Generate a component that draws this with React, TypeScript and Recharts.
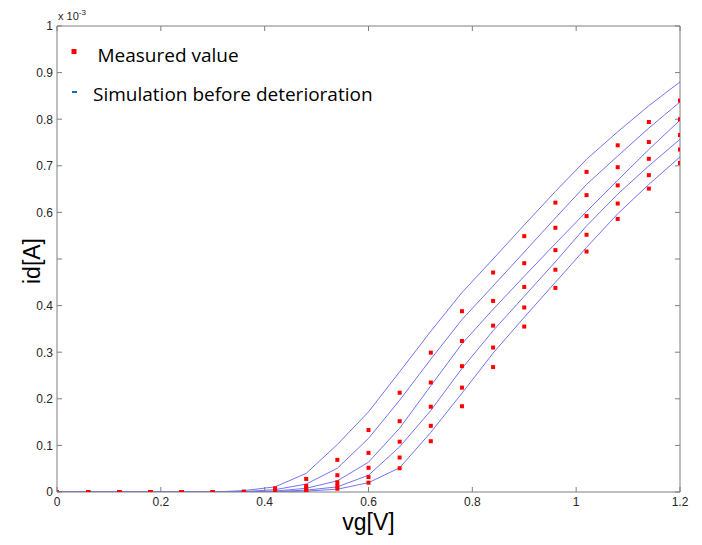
import React from 'react';
import { ComposedChart, Line, XAxis, YAxis, ReferenceLine, Legend } from 'recharts';

// gate voltage [V]
const VG = [0, 0.06, 0.12, 0.18, 0.24, 0.3, 0.36, 0.42, 0.48, 0.54, 0.6, 0.66, 0.72, 0.78, 0.84, 0.9, 0.96, 1.02, 1.08, 1.14, 1.2];

// simulation before deterioration (x 10^-3 A)
const SIM1 = [0, 0, 0, 0, 0, 0, 0.003, 0.011, 0.040, 0.102, 0.172, 0.258, 0.345, 0.428, 0.500, 0.573, 0.645, 0.714, 0.773, 0.829, 0.880];
const SIM2 = [0, 0, 0, 0, 0, 0, 0.001, 0.005, 0.017, 0.051, 0.115, 0.197, 0.285, 0.370, 0.442, 0.515, 0.588, 0.660, 0.721, 0.781, 0.837];
const SIM3 = [0, 0, 0, 0, 0, 0, 0, 0.002, 0.008, 0.024, 0.064, 0.137, 0.228, 0.318, 0.392, 0.463, 0.533, 0.602, 0.669, 0.735, 0.798];
const SIM4 = [0, 0, 0, 0, 0, 0, 0, 0.001, 0.004, 0.011, 0.036, 0.097, 0.175, 0.265, 0.346, 0.420, 0.494, 0.571, 0.639, 0.700, 0.757];
const SIM5 = [0, 0, 0, 0, 0, 0, 0, 0, 0.002, 0.006, 0.020, 0.052, 0.128, 0.212, 0.298, 0.375, 0.450, 0.525, 0.597, 0.660, 0.719];

// measured values (x 10^-3 A)
const MEAS1 = [0, 0, 0, 0, 0, 0, 0.001, 0.008, 0.028, 0.069, 0.133, 0.213, 0.299, 0.388, 0.471, 0.549, 0.621, 0.687, 0.744, 0.794, 0.840];
const MEAS2 = [0, 0, 0, 0, 0, 0, 0, 0.005, 0.013, 0.036, 0.084, 0.152, 0.235, 0.324, 0.410, 0.491, 0.567, 0.637, 0.697, 0.751, 0.800];
const MEAS3 = [0, 0, 0, 0, 0, 0, 0, 0.003, 0.008, 0.021, 0.052, 0.108, 0.183, 0.270, 0.357, 0.440, 0.519, 0.592, 0.658, 0.715, 0.766];
const MEAS4 = [0, 0, 0, 0, 0, 0, 0, 0.001, 0.004, 0.013, 0.032, 0.074, 0.142, 0.224, 0.310, 0.396, 0.477, 0.552, 0.619, 0.680, 0.735];
const MEAS5 = [0, 0, 0, 0, 0, 0, 0, 0, 0.000, 0.007, 0.020, 0.051, 0.109, 0.184, 0.268, 0.355, 0.438, 0.516, 0.586, 0.651, 0.706];

const X_TICKS = [0, 0.2, 0.4, 0.6, 0.8, 1, 1.2];
const Y_TICKS = [0, 0.1, 0.2, 0.3, 0.4, 0.5, 0.6, 0.7, 0.8, 0.9, 1];
// tick label hidden under the "id[A]" axis title in the original figure
const Y_TICK_HIDDEN = [0.5];

const SIMS = [SIM1, SIM2, SIM3, SIM4, SIM5];
const MEAS = [MEAS1, MEAS2, MEAS3, MEAS4, MEAS5];

const data = VG.map((vg, i) => {
  const row: Record<string, number> = { vg };
  SIMS.forEach((s, k) => { row['s' + k] = s[i]; });
  MEAS.forEach((m, k) => { row['m' + k] = m[i]; });
  return row;
});

const AXIS = '#7f7f7f';
const TICK_TXT = '#262626';
const LINE = '#7474f2';
const DOT = '#ff0000';
const FONT = '"Liberation Sans", Arial, sans-serif';

const fmt = (v: number) => (v === 0 ? '0' : v === 1 ? '1' : String(Math.round(v * 10) / 10));

const LeftTick = (p: any) => (
  <g>
    <line x1={p.x} y1={p.y} x2={p.x + 5} y2={p.y} stroke={AXIS} />
    {Y_TICK_HIDDEN.includes(p.payload.value) ? null : (
      <text x={p.x - 4} y={p.y} dy="0.36em" textAnchor="end" fontSize={12} fontFamily={FONT} fill={TICK_TXT}>
        {fmt(p.payload.value)}
      </text>
    )}
  </g>
);

const BottomTick = (p: any) => (
  <g>
    <line x1={p.x} y1={p.y} x2={p.x} y2={p.y - 5} stroke={AXIS} />
    <text x={p.x} y={p.y + 14} textAnchor="middle" fontSize={12} fontFamily={FONT} fill={TICK_TXT}>
      {fmt(p.payload.value)}
    </text>
  </g>
);

const SquareDot = (p: any) => {
  if (p.cx == null || p.cy == null) return <g />;
  return <rect x={p.cx - 2} y={p.cy - 2} width={4} height={4} fill={DOT} />;
};

const TopTickLine = (p: any) => (
  <line x1={p.x1} y1={Math.min(p.y1, p.y2)} x2={p.x1} y2={Math.min(p.y1, p.y2) + 5} stroke={AXIS} />
);
const RightTickLine = (p: any) => (
  <line x1={Math.max(p.x1, p.x2)} y1={p.y1} x2={Math.max(p.x1, p.x2) - 5} y2={p.y1} stroke={AXIS} />
);

const YLabel = (props: any) => {
  const vb = props.viewBox || { x: 0, y: 26, width: 57, height: 466 };
  const cx = vb.x + 32;
  const cy = vb.y + vb.height / 2 + 2;
  return (
    <g>
      <text x={cx} y={cy} transform={`rotate(-90, ${cx}, ${cy})`} textAnchor="middle" dy="0.35em" fontSize={23} fontFamily={FONT} fill="#000">
        id[A]
      </text>
      <text x={vb.x + vb.width + 1} y={vb.y - 6} fontSize={11} fontFamily={FONT} fill={TICK_TXT}>
        x 10
        <tspan dy={-5} fontSize={8}>-3</tspan>
      </text>
    </g>
  );
};

const XLabel = (props: any) => {
  const vb = props.viewBox || { x: 57, y: 492, width: 623, height: 30 };
  return (
    <text x={vb.x + vb.width / 2} y={vb.y + 38} textAnchor="middle" fontSize={23} fontFamily={FONT} fill="#000">
      vg[V]
    </text>
  );
};

const LegendBox = () => (
  <svg width={360} height={80} style={{ display: 'block' }}>
    <rect x={11.5} y={19} width={5} height={5} fill={DOT} />
    <text x={37.5} y={31.5} fontSize={19} fontFamily='"Open Sans", sans-serif' fill="#000">
      Measured value
    </text>
    <rect x={12} y={61} width={5} height={2} fill="#0070c0" />
    <text x={33} y={71} fontSize={19} fontFamily='"Open Sans", sans-serif' fill="#000">
      Simulation before deterioration
    </text>
  </svg>
);

export default function App() {
  return (
    <div style={{ position: 'absolute', left: 0, top: 0, width: 702, height: 545, background: '#fff' }}>
      <ComposedChart width={702} height={545} data={data} margin={{ top: 26, right: 22, bottom: 23, left: 0 }}>
        <XAxis
          dataKey="vg"
          type="number"
          domain={[0, 1.2]}
          ticks={X_TICKS}
          height={30}
          tickSize={0}
          tickMargin={0}
          tickLine={false}
          tick={<BottomTick />}
          axisLine={{ stroke: AXIS }}
          label={<XLabel />}
          allowDataOverflow
        />
        <YAxis
          type="number"
          domain={[0, 1]}
          ticks={Y_TICKS}
          width={57}
          tickSize={0}
          tickMargin={0}
          tickLine={false}
          tick={<LeftTick />}
          axisLine={{ stroke: AXIS }}
          label={<YLabel />}
          allowDataOverflow
        />
        <ReferenceLine x={1.2} stroke={AXIS} />
        <ReferenceLine y={1} stroke={AXIS} />
        {X_TICKS.map((t) => (
          <ReferenceLine key={'xt' + t} x={t} shape={<TopTickLine />} />
        ))}
        {Y_TICKS.map((t) => (
          <ReferenceLine key={'yt' + t} y={t} shape={<RightTickLine />} />
        ))}
        {SIMS.map((_, k) => (
          <Line key={'s' + k} dataKey={'s' + k} stroke={LINE} strokeWidth={1} dot={false} isAnimationActive={false} legendType="none" />
        ))}
        {MEAS.map((_, k) => (
          <Line key={'m' + k} dataKey={'m' + k} stroke="none" dot={<SquareDot />} activeDot={false} isAnimationActive={false} legendType="none" />
        ))}
        <Legend
          layout="horizontal"
          verticalAlign="middle"
          align="center"
          content={<LegendBox />}
          wrapperStyle={{ position: 'absolute', left: 60, top: 30, width: 360, height: 80 }}
        />
      </ComposedChart>
    </div>
  );
}
